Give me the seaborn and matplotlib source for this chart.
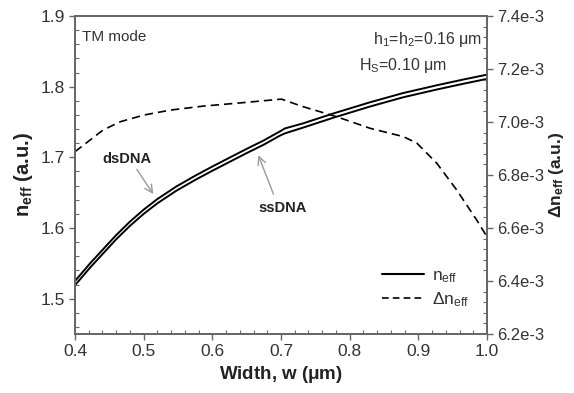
import numpy as np
import pandas as pd
import matplotlib
matplotlib.use("Agg")
import matplotlib.pyplot as plt
from matplotlib.ticker import MultipleLocator
from matplotlib.lines import Line2D
import seaborn as sns

sns.set_theme(style="white")
plt.rcParams['font.family'] = ['Liberation Sans', 'DejaVu Sans']
plt.rcParams['mathtext.fontset'] = 'custom'
plt.rcParams['mathtext.rm'] = 'Liberation Sans'
plt.rcParams['mathtext.it'] = 'Liberation Sans'
plt.rcParams['mathtext.bf'] = 'Liberation Sans:bold'

width = [0.400, 0.422, 0.441, 0.460, 0.480, 0.500, 0.520, 0.548, 0.575, 0.600, 0.626,
         0.650, 0.675, 0.699, 0.706, 0.732, 0.776, 0.830, 0.878, 0.927, 0.965, 1.000]
neff_ds = [1.525, 1.550, 1.570, 1.590, 1.609, 1.626, 1.641, 1.659, 1.674, 1.687, 1.700,
           1.712, 1.724, 1.737, 1.741, 1.748, 1.762, 1.778, 1.791, 1.802, 1.810, 1.817]
neff_ss = [1.519, 1.544, 1.564, 1.584, 1.603, 1.620, 1.635, 1.653, 1.668, 1.681, 1.694,
           1.706, 1.718, 1.731, 1.734, 1.742, 1.756, 1.772, 1.785, 1.796, 1.804, 1.811]

width_d = [0.400, 0.422, 0.441, 0.466, 0.500, 0.539, 0.587, 0.636, 0.699, 0.701,
           0.732, 0.781, 0.830, 0.878, 0.898, 0.927, 0.956, 0.985, 1.000]
dneff = [6.888e-3, 6.932e-3, 6.970e-3, 7.001e-3, 7.026e-3, 7.045e-3, 7.060e-3, 7.071e-3,
         7.086e-3, 7.086e-3, 7.058e-3, 7.020e-3, 6.976e-3, 6.945e-3, 6.920e-3, 6.844e-3,
         6.743e-3, 6.630e-3, 6.567e-3]

df_n = pd.DataFrame({"w": width, "ds": neff_ds, "ss": neff_ss})
df_d = pd.DataFrame({"w": width_d, "d": dneff})

fig = plt.figure(figsize=(5.74, 3.93), dpi=100)
ax = fig.add_axes([75/574, 1-334/393, (487-75)/574, (334-16)/393])
ax2 = ax.twinx()

sns.lineplot(data=df_n, x="w", y="ds", ax=ax, color="black", lw=1.4)
sns.lineplot(data=df_n, x="w", y="ss", ax=ax, color="black", lw=1.4)
sns.lineplot(data=df_d, x="w", y="d", ax=ax2, color="black", lw=1.2, linestyle=(0, (5, 3)))

ax.set_xlim(0.4, 1.0)
ax.set_ylim(1.45, 1.9)
ax2.set_ylim(6.2e-3, 7.4e-3)

ax.xaxis.set_minor_locator(MultipleLocator(0.02))
ax.yaxis.set_minor_locator(MultipleLocator(0.02))
ax2.yaxis.set_minor_locator(MultipleLocator(0.04e-3))

x_ticks = np.arange(0.4, 1.01, 0.1)
ax.set_xticks(x_ticks)
ax.set_xticklabels([f"{v:.1f}" for v in x_ticks])
y_ticks = np.arange(1.5, 1.91, 0.1)
ax.set_yticks(y_ticks)
ax.set_yticklabels([f"{v:.1f}" for v in y_ticks])
r_ticks = np.arange(6.2, 7.41, 0.2)
ax2.set_yticks(r_ticks * 1e-3)
ax2.set_yticklabels([f"{v:.1f}e-3" for v in r_ticks])

for a in (ax, ax2):
    for s in a.spines.values():
        s.set_color("#666666")
        s.set_linewidth(1.3)
ax.tick_params(which="major", direction="out", length=4, width=1, color="#666666", labelsize=12.5, labelcolor="#333333")
ax.tick_params(which="minor", direction="in", length=3, width=0.8, color="#666666")
ax.tick_params(axis="both", which="both", bottom=True, left=True)
ax2.tick_params(which="major", direction="out", length=4, width=1, color="#666666", labelsize=12, labelcolor="#333333", right=True, pad=3)
ax2.tick_params(which="minor", direction="in", length=3, width=0.8, color="#666666", right=True)

ax.set_xlabel(r"Width, w ($\mathbf{\mu}$m)", fontsize=13.5, fontweight="bold", color="#222222", labelpad=3)
ax.set_ylabel(r"$\mathbf{n_{eff}}$ (a.u.)", fontsize=14.5, fontweight="bold", color="#222222", labelpad=4)
ax2.set_ylabel(r"$\mathbf{\Delta n_{eff}}$ (a.u.)", fontsize=12.5, fontweight="bold", color="#222222", labelpad=2)

ax.text(0.018, 0.955, "TM mode", transform=ax.transAxes, fontsize=11, color="#333333", va="top", ha="left")
ax.text(0.988, 0.955, r"h$_1$=h$_2$=0.16 $\mu$m", transform=ax.transAxes, fontsize=11.5, color="#333333", va="top", ha="right")
ax.text(0.69, 0.875, r"H$_\mathrm{S}$=0.10 $\mu$m", transform=ax.transAxes, fontsize=11.5, color="#333333", va="top", ha="left")

ax.text(0.475, 1.697, "dsDNA", fontsize=10.5, fontweight="bold", color="#222222", ha="center", va="center")
ax.text(0.703, 1.628, "ssDNA", fontsize=10.5, fontweight="bold", color="#222222", ha="center", va="center")
arrow = dict(arrowstyle="->", color="#999999", lw=1, shrinkA=0, shrinkB=0, mutation_scale=14)
ax.annotate("", xy=(0.514, 1.648), xytext=(0.490, 1.683), arrowprops=arrow)
ax.annotate("", xy=(0.667, 1.703), xytext=(0.689, 1.648), arrowprops=arrow)

handles = [Line2D([], [], color="black", lw=1.5),
           Line2D([], [], color="black", lw=1.2, linestyle=(0, (4, 2.5)))]
labels = [r"n$_\mathrm{eff}$", r"$\Delta$n$_\mathrm{eff}$"]
leg = ax.legend(handles, labels, loc="lower right", bbox_to_anchor=(0.995, 0.03), frameon=False,
                fontsize=12.5, handlelength=2.4, labelspacing=0.3, handletextpad=0.5)
for t in leg.get_texts():
    t.set_color("#333333")

fig.savefig("out.png", dpi=100)
